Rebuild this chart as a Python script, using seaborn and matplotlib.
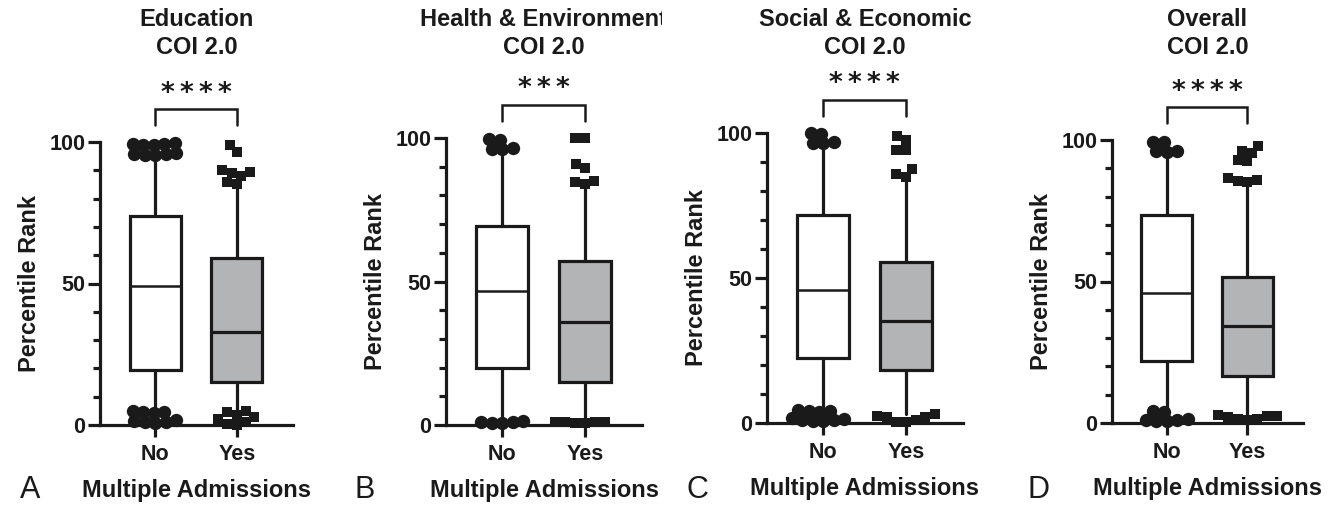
import matplotlib
matplotlib.use('Agg')
import matplotlib.pyplot as plt
from matplotlib.ticker import MultipleLocator, FixedLocator
from matplotlib.transforms import Bbox, TransformedBbox
import numpy as np
import seaborn as sns

# Dados
categorias = ['No', 'Yes']
titulos = ['Education', 'Health & Environment', 'Social & Economic', 'Overall']
letras = ['A', 'B', 'C', 'D']
estrelas = ['****', '***', '****', '****']

# Grupo "No"
q1_no = [19.4, 19.8, 22.5, 21.9]
med_no = [49.1, 46.8, 45.9, 45.9]
q3_no = [73.9, 69.3, 71.7, 73.5]
wlo_no = [5.0, 2.0, 4.0, 3.0]
whi_no = [95.0, 96.0, 95.5, 96.0]

# Grupo "Yes"
q1_yes = [15.3, 15.1, 18.3, 16.6]
med_yes = [33.0, 35.8, 35.2, 34.3]
q3_yes = [59.0, 57.2, 55.6, 51.7]
wlo_yes = [5.0, 1.0, 3.0, 3.0]
whi_yes = [84.0, 83.6, 83.8, 83.5]

# Outliers
out_no = [
    [95.3, 95.5, 95.6, 95.8, 96.0, 98.8, 99.0, 99.2, 99.4, 99.6,
     0.8, 1.0, 1.2, 1.4, 1.6, 4.3, 4.5, 4.7, 4.9],
    [96.0, 96.2, 96.4, 99.4, 99.6,
     0.6, 0.8, 1.0, 1.2, 1.4],
    [96.4, 96.6, 96.8, 99.8, 100.0,
     0.6, 0.8, 1.0, 1.2, 1.4, 1.6, 3.8, 4.0, 4.2, 4.4],
    [95.8, 96.0, 96.2, 99.2, 99.4,
     0.6, 0.8, 1.0, 1.2, 1.4, 4.0, 4.2],
]
out_yes = [
    [99, 96.5, 90, 89.5, 89, 88, 86, 85, 5, 4.5, 3.5, 3, 2, 1, 0.5, 0],
    [100, 100, 91, 89.5, 85, 84.5, 84, 1, 1, 1, 1, 0.8, 0.8],
    [99, 97.5, 94, 94, 87.5, 86, 85, 0.5, 1, 2, 2.5, 3, 2, 0.5],
    [98, 96, 95.5, 93, 92.5, 86.5, 86, 85.5, 85, 1, 1.5, 2, 2.5, 3, 2.5, 1.5],
]

sns.set_style('ticks')
plt.rcParams['font.family'] = ['Liberation Sans', 'DejaVu Sans']
plt.rcParams['font.weight'] = 'bold'

W, H = 1342, 505
fig = plt.figure(figsize=(W / 100, H / 100), dpi=100)

# posicao dos eixos em pixels: esquerda, direita, topo (100), base (0)
caixas = [(100, 293, 142, 425), (446, 642, 138, 425),
          (767, 963, 133, 423), (1112, 1303, 140, 423)]
x_letras = [30, 365, 697, 1038]

lw = 2.3
cinza = '#b3b4b6'
preto = '#1a1a1a'
fs = 15.5
fs_lab = 17

enxames = []  # (ax, colecao, marcador, tamanho final)

for i in range(4):
    l, r, t, b = caixas[i]
    ax = fig.add_axes([l / W, 1 - b / H, (r - l) / W, (b - t) / H])

    stats = [
        dict(med=med_no[i], q1=q1_no[i], q3=q3_no[i], whislo=wlo_no[i], whishi=whi_no[i], fliers=[]),
        dict(med=med_yes[i], q1=q1_yes[i], q3=q3_yes[i], whislo=wlo_yes[i], whishi=whi_yes[i], fliers=[]),
    ]
    bp = ax.bxp(stats, positions=[0, 1], widths=0.63, patch_artist=True,
                showfliers=False, showcaps=False,
                boxprops=dict(edgecolor=preto, linewidth=lw),
                whiskerprops=dict(color=preto, linewidth=lw),
                medianprops=dict(color=preto, linewidth=lw))
    bp['boxes'][0].set_facecolor('white')
    bp['boxes'][1].set_facecolor(cinza)
    bp['medians'][0].set_linewidth(1.8)
    for art in bp['boxes'] + bp['whiskers'] + bp['medians']:
        art.set_zorder(2)

    # outliers com seaborn (swarm deterministico)
    sns.swarmplot(x=np.full(len(out_no[i]), 0.0), y=out_no[i], native_scale=True,
                  marker='o', size=7.2, color=preto, linewidth=0, ax=ax,
                  zorder=3, clip_on=False, warn_thresh=1.0)
    enxames.append((ax, ax.collections[-1], 'o', 9.6))
    sns.swarmplot(x=np.full(len(out_yes[i]), 1.0), y=out_yes[i], native_scale=True,
                  marker='s', size=6.8, color=preto, linewidth=0, ax=ax,
                  zorder=3, clip_on=False, warn_thresh=1.0)
    enxames.append((ax, ax.collections[-1], 's', 7.4))

    ax.set_xlim(-0.68, 1.69)
    ax.set_ylim(0, 100)
    sns.despine(ax=ax)
    ax.spines['left'].set_bounds(0, 100)
    for s in ['left', 'bottom']:
        ax.spines[s].set_linewidth(lw)
        ax.spines[s].set_color(preto)
        ax.spines[s].set_zorder(2.5)

    ax.yaxis.set_major_locator(FixedLocator([0, 50, 100]))
    ax.yaxis.set_minor_locator(MultipleLocator(10))
    ax.set_yticklabels(['0', '50', '100'])
    ax.set_xticks([0, 1])
    ax.set_xticklabels(categorias)
    ax.tick_params(axis='both', which='major', length=8.5, width=lw, color=preto,
                   labelsize=fs, labelcolor=preto)
    ax.tick_params(axis='y', which='minor', length=5, width=lw, color=preto)
    ax.tick_params(axis='y', which='major', pad=2)
    ax.tick_params(axis='x', which='major', pad=5)
    for lab in ax.get_xticklabels() + ax.get_yticklabels():
        lab.set_fontweight('bold')

    ax.set_ylabel('Percentile Rank', fontsize=fs_lab, fontweight='bold', labelpad=6, color=preto)
    ax.set_xlabel('Multiple Admissions', fontsize=fs_lab, fontweight='bold', labelpad=10, color=preto)
    ax.patch.set_alpha(0)

    # colchete de significancia
    ax.plot([0, 0, 1, 1], [106, 111.5, 111.5, 106], color=preto, lw=1.8, clip_on=False,
            solid_joinstyle='miter')
    ax.text(0.5, 112.5, '\u2009'.join(estrelas[i]), ha='center', va='bottom', fontsize=19,
            fontweight='bold', color=preto, family=['DejaVu Sans'])

    # titulos
    cx = (l + r) / 2 / W
    t1 = fig.text(cx, 1 - 20 / H, titulos[i], ha='center', va='center', fontsize=fs_lab,
                  fontweight='bold', color=preto)
    fig.text(cx, 1 - 48 / H, 'COI 2.0', ha='center', va='center', fontsize=fs_lab,
             fontweight='bold', color=preto)
    if i == 1:
        t1.set_clip_box(TransformedBbox(Bbox([[0, 0], [662 / W, 1]]), fig.transFigure))
        t1.set_clip_on(True)

    fig.text(x_letras[i] / W, 1 - 490 / H, letras[i], ha='center', va='center', fontsize=22,
             fontweight='normal', color=preto)

# calcula o layout do swarm e redesenha com marcadores maiores (manchas densas)
fig.canvas.draw()
for ax, col, mk, tam in enxames:
    xy = np.asarray(col.get_offsets())
    col.remove()
    ax.scatter(xy[:, 0], xy[:, 1], s=tam ** 2, marker=mk, color=preto, linewidths=0,
               zorder=3, clip_on=False)

plt.savefig('out.png', dpi=100)
